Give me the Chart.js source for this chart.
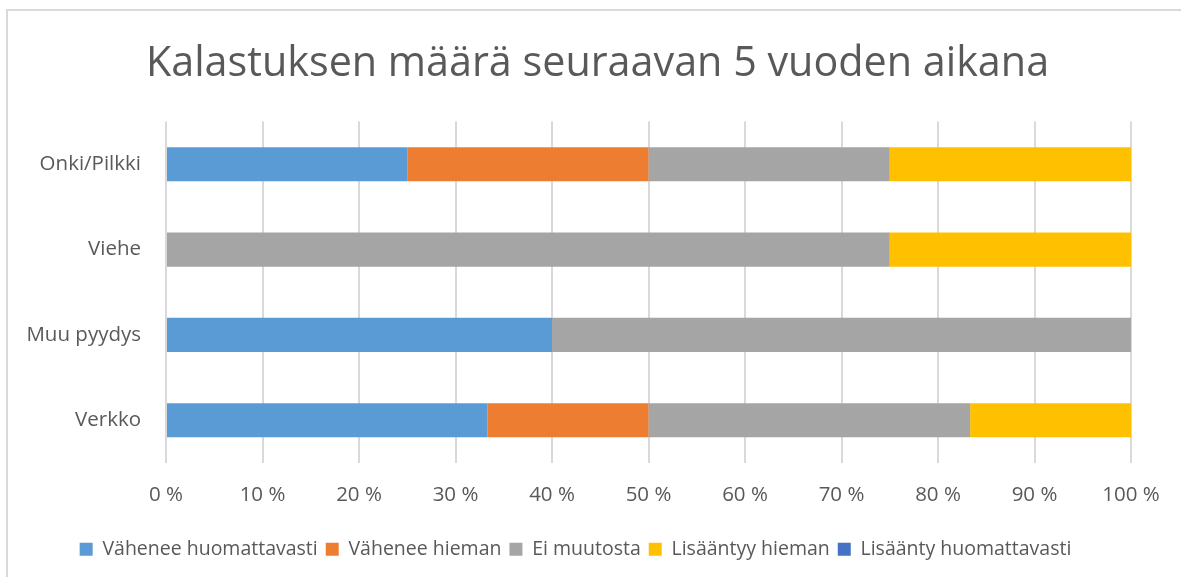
<!DOCTYPE html>
<html>
<head>
<meta charset="utf-8">
<script src="https://cdn.jsdelivr.net/npm/chart.js@4/dist/chart.umd.min.js"></script>
<style>
  html, body { margin: 0; padding: 0; background: #fff; }
  #wrap { position: relative; width: 1181px; height: 577px; overflow: hidden; }
  #frame { position: absolute; left: 6px; top: 9px; width: 1200px; height: 600px;
           border-left: 2px solid #d9d9d9; border-top: 2px solid #d9d9d9; box-sizing: border-box; }
  canvas { position: absolute; left: 0; top: 0; }
</style>
</head>
<body>
<div id="wrap">
  <div id="frame"></div>
  <canvas id="c" width="1181" height="577"></canvas>
</div>
<script>
const titleText = 'Kalastuksen määrä seuraavan 5 vuoden aikana';
const categories = ['Onki/Pilkki', 'Viehe', 'Muu pyydys', 'Verkko'];
const seriesNames = ['Vähenee huomattavasti', 'Vähenee hieman', 'Ei muutosta', 'Lisääntyy hieman', 'Lisäänty huomattavasti'];
const vaheneeHuomattavasti = [25, 0, 40, 33.33];
const vaheneeHieman = [25, 0, 0, 16.67];
const eiMuutosta = [25, 75, 60, 33.33];
const lisaantyyHieman = [25, 25, 0, 16.67];
const lisaantyHuomattavasti = [0, 0, 0, 0];
const xTicks = [0, 10, 20, 30, 40, 50, 60, 70, 80, 90, 100];
const colors = ['#5B9BD5', '#ED7D31', '#A5A5A5', '#FFC000', '#4472C4'];

const seriesValues = [vaheneeHuomattavasti, vaheneeHieman, eiMuutosta, lisaantyyHieman, lisaantyHuomattavasti];
const FONT = "'Open Sans', sans-serif";
const TXT = '#595959';

// Moves the title and legend boxes after layout so they sit where the original has them.
const placeBlocks = {
  id: 'placeBlocks',
  afterLayout(chart) {
    const t = chart.titleBlock, l = chart.legend;
    if (t) { t.left += 32; t.right += 32; }
    if (l) { l.left += 10; l.right += 10; l.top += 4; l.bottom += 4; }
  }
};

new Chart(document.getElementById('c'), {
  type: 'bar',
  data: {
    labels: categories,
    datasets: seriesNames.map((n, i) => ({
      label: n,
      data: seriesValues[i],
      backgroundColor: colors[i],
      borderWidth: 0,
      barPercentage: 0.8,
      categoryPercentage: 0.5
    }))
  },
  options: {
    indexAxis: 'y',
    responsive: false,
    animation: false,
    layout: { padding: { left: 0, right: 50, top: 0, bottom: 12 } },
    plugins: {
      title: {
        display: true,
        text: titleText,
        color: TXT,
        font: { family: FONT, size: 41.3, weight: 'normal', lineHeight: 1.2 },
        padding: { top: 39, bottom: 33 }
      },
      legend: {
        position: 'bottom',
        labels: {
          color: TXT,
          font: { family: FONT, size: 19.5 },
          boxWidth: 13,
          boxHeight: 13,
          padding: 8
        }
      },
      tooltip: { enabled: false }
    },
    scales: {
      x: {
        stacked: true,
        min: 0,
        max: 100,
        afterBuildTicks: (s) => { s.ticks = xTicks.map(v => ({ value: v })); },
        ticks: {
          color: TXT,
          font: { family: FONT, size: 20.5 },
          padding: 20,
          callback: (v) => v + ' %'
        },
        grid: { color: '#d9d9d9', lineWidth: 2, drawTicks: false },
        border: { display: false }
      },
      y: {
        stacked: true,
        afterFit: (s) => { s.width = 166; },
        ticks: {
          color: TXT,
          font: { family: FONT, size: 20.5 },
          padding: 17
        },
        grid: { display: false },
        border: { display: false }
      }
    }
  },
  plugins: [placeBlocks]
});
</script>
</body>
</html>
